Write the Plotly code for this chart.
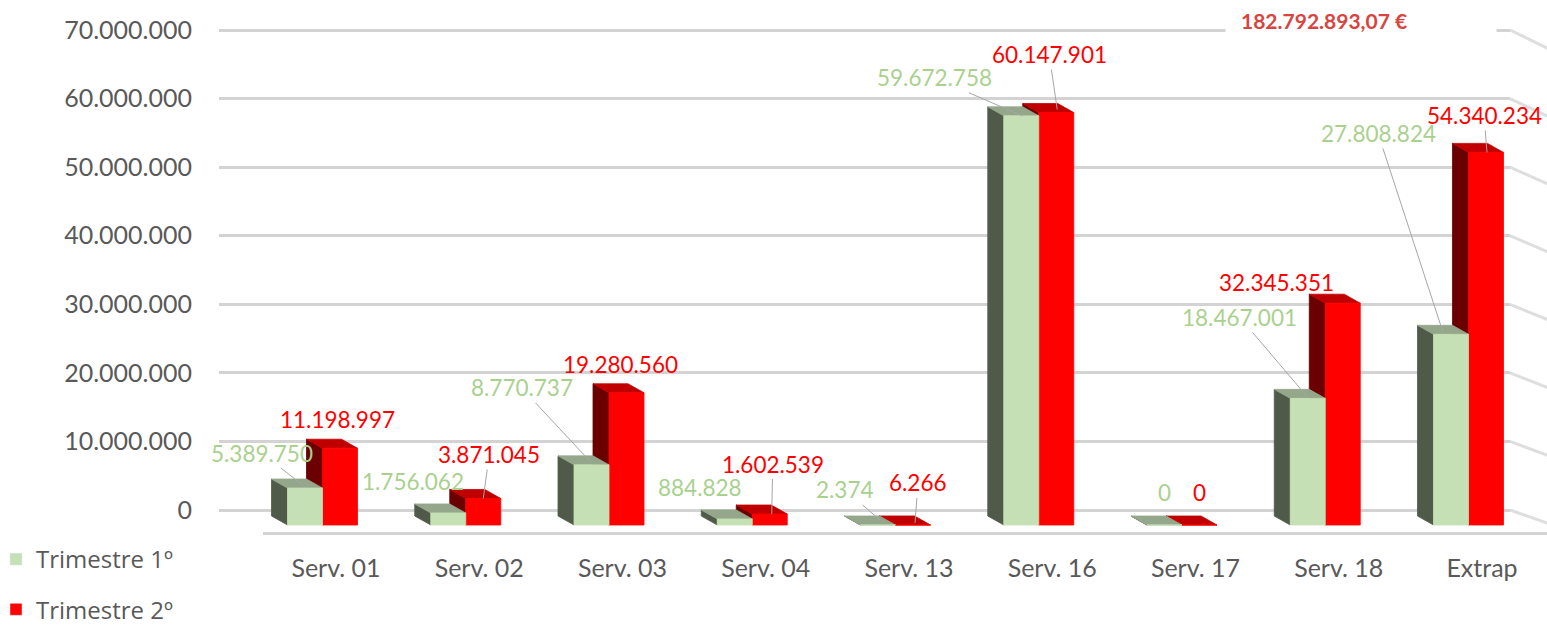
import plotly.graph_objects as go

# ---------------- data ----------------
categories = ["Serv. 01", "Serv. 02", "Serv. 03", "Serv. 04", "Serv. 13",
              "Serv. 16", "Serv. 17", "Serv. 18", "Extrap"]
trim1 = [5389750, 1756062, 8770737, 884828, 2374, 59672758, 0, 18467001, 27808824]
trim2 = [11198997, 3871045, 19280560, 1602539, 6266, 60147901, 0, 32345351, 54340234]
series_names = ["Trimestre 1º", "Trimestre 2º"]
y_tick_values = [0, 10000000, 20000000, 30000000, 40000000, 50000000, 60000000, 70000000]
total_text = "182.792.893,07 €"


def fmt(v):
    return f"{v:,}".replace(",", ".")


y_tick_text = [fmt(v) for v in y_tick_values]

# ---------------- styling / geometry ----------------
W, H = 1547, 630
FONT = "Lato, 'Open Sans', sans-serif"
GREY_TXT = "#595959"
GRID = "#d3d3d3"
PX_PER_CAT = 143.25
PX_PER_VAL = 480.0 / 70e6
X2_DOM0 = 263
X2_MIN = -(336 - X2_DOM0) / PX_PER_CAT
X2_MAX = X2_MIN + (W - X2_DOM0) / PX_PER_CAT
SPAN_Y = H / PX_PER_VAL
Y_BACK_MIN = -(H - 510) / PX_PER_VAL
Y_FRONT_MIN = -(H - 525) / PX_PER_VAL
DX = -16 / PX_PER_CAT
DY = 9 / PX_PER_VAL

styles = [
    dict(name=series_names[0], vals=trim1, off=(-48.5 / PX_PER_CAT, -13.5 / PX_PER_CAT),
         front="#c5e0b4", side="#505a49", top="#95a78b", label="#a9d18e"),
    dict(name=series_names[1], vals=trim2, off=(-13.5 / PX_PER_CAT, 21.5 / PX_PER_CAT),
         front="#ff0000", side="#6b0000", top="#c00000", label="#ff0000"),
]

# label placement: (tip_dx, tip_dy, text_dx, text_dy, leader) in screen pixels
label_pos = [
    [(0, -1, -43, -34, True), (0, 0, -35, -31, False), (0, -2, -70, -75, True),
     (0, 0, -35, -31, False), (2, -5, -35, -30, True), (1, 0, -88, -38, True),
     (0, 0, 0, -33, False), (0, -1, -68, -80, True), (-8, -2, -65, -199, True)],
    [(0, 0, -3, -29, False), (0, 0, 6, -44, True), (0, 0, -6, -28, False),
     (2, 0, 1, -50, True), (2, -2, 3, -40, True), (1, -3, -8, -55, True),
     (0, 0, 0, -33, False), (0, 0, -66, -21, False), (1, 0, -3, -37, True)],
]


def polys(vals, off):
    fx, fy, sx, sy, tx, ty = [], [], [], [], [], []
    for i, v in enumerate(vals):
        xl, xr = i + off[0], i + off[1]
        fx += [xl, xr, xr, xl, xl, None]
        fy += [0, 0, v, v, 0, None]
        sx += [xl, xl + DX, xl + DX, xl, xl, None]
        sy += [0, DY, v + DY, v, 0, None]
        tx += [xl, xl + DX, xr + DX, xr, xl, None]
        ty += [v, v + DY, v + DY, v, v, None]
    return (fx, fy), (sx, sy), (tx, ty)


fig = go.Figure()
# dummy trace for the back-wall (gridline) subplot
fig.add_trace(go.Scatter(x=[None], y=[None], xaxis="x", yaxis="y",
                         showlegend=False, hoverinfo="skip"))

# draw red series first, then green (green front hides red's side face)
for st in reversed(styles):
    (fx, fy), (sx, sy), (tx, ty) = polys(st["vals"], st["off"])
    for (xx, yy, col) in [(sx, sy, st["side"]), (tx, ty, st["top"]), (fx, fy, st["front"])]:
        fig.add_trace(go.Scatter(x=xx, y=yy, xaxis="x2", yaxis="y2", mode="lines",
                                 fill="toself", fillcolor=col,
                                 line=dict(color=col, width=0.8),
                                 showlegend=False, hoverinfo="skip"))

# legend entries
for st in styles:
    fig.add_trace(go.Bar(x=[None], y=[None], xaxis="x2", yaxis="y2", name=st["name"],
                         marker_color=st["front"], legendgroup=st["name"]))

annotations = []
for s, st in enumerate(styles):
    center = (st["off"][0] + st["off"][1]) / 2
    for i, v in enumerate(st["vals"]):
        tdx, tdy, ldx, ldy, leader = label_pos[s][i]
        if leader:
            annotations.append(dict(
                x=i + center, y=v, xref="x2", yref="y2", text=fmt(v),
                xshift=tdx, yshift=-tdy, ax=ldx, ay=ldy, showarrow=True,
                arrowhead=0, arrowwidth=1, arrowcolor="#a6a6a6", standoff=0,
                font=dict(family=FONT, size=22.5, color=st["label"])))
        else:
            annotations.append(dict(
                x=i + center, y=v, xref="x2", yref="y2", text=fmt(v),
                xshift=tdx + ldx, yshift=-(tdy + ldy), showarrow=False,
                font=dict(family=FONT, size=22.5, color=st["label"])))

annotations.append(dict(
    x=1361 / W, y=1 - 20 / H, xref="paper", yref="paper", xanchor="center",
    yanchor="middle", text="<b>" + total_text + "</b>", showarrow=False,
    bgcolor="white", width=240, borderpad=15, align="left",
    font=dict(family=FONT, size=21, color="#d9443e")))

shapes = []
for v in y_tick_values:
    drop = (13 + 5 * v / 70e6) / PX_PER_VAL
    shapes.append(dict(type="line", xref="paper", yref="y", x0=1510 / W, x1=1.01,
                       y0=v, y1=v - drop * (1.01 * W - 1510) / (W - 1510),
                       line=dict(color="#dedede", width=3), layer="below"))

fig.update_layout(
    width=W, height=H,
    margin=dict(l=0, r=0, t=0, b=0, pad=0, autoexpand=False),
    paper_bgcolor="white", plot_bgcolor="rgba(0,0,0,0)",
    font=dict(family=FONT, color=GREY_TXT),
    xaxis=dict(domain=[219 / W, 1510 / W], range=[0, 1], visible=False,
               anchor="y", automargin=False, fixedrange=True),
    yaxis=dict(domain=[0, 1], range=[Y_BACK_MIN, Y_BACK_MIN + SPAN_Y], anchor="x",
               tickvals=y_tick_values, ticktext=y_tick_text, showgrid=True,
               gridcolor=GRID, gridwidth=3, zeroline=False, showline=False,
               ticks="outside", ticklen=21, tickcolor="rgba(0,0,0,0)",
               tickfont=dict(family=FONT, size=25, color=GREY_TXT),
               automargin=False, fixedrange=True),
    xaxis2=dict(domain=[X2_DOM0 / W, 1], range=[X2_MIN, X2_MAX], anchor="free",
                position=(H - 533) / H, tickvals=list(range(len(categories))),
                ticktext=categories, showgrid=False, zeroline=False,
                showline=True, linecolor=GRID, linewidth=3,
                ticks="outside", ticklen=12, tickcolor="rgba(0,0,0,0)",
                tickfont=dict(family=FONT, size=25, color=GREY_TXT),
                automargin=False, fixedrange=True),
    yaxis2=dict(domain=[0, 1], range=[Y_FRONT_MIN, Y_FRONT_MIN + SPAN_Y],
                anchor="x2", visible=False, automargin=False, fixedrange=True),
    showlegend=True,
    legend=dict(x=-4 / W, y=1 - 537 / H, xanchor="left", yanchor="top",
                orientation="v", traceorder="grouped", tracegroupgap=16,
                bgcolor="rgba(0,0,0,0)",
                font=dict(family="'Open Sans', sans-serif", size=24, color=GREY_TXT)),
    annotations=annotations,
    shapes=shapes,
    barmode="group",
)

fig.write_html("out.html", config={"displayModeBar": False},
               post_script="document.body.style.margin='0';")
